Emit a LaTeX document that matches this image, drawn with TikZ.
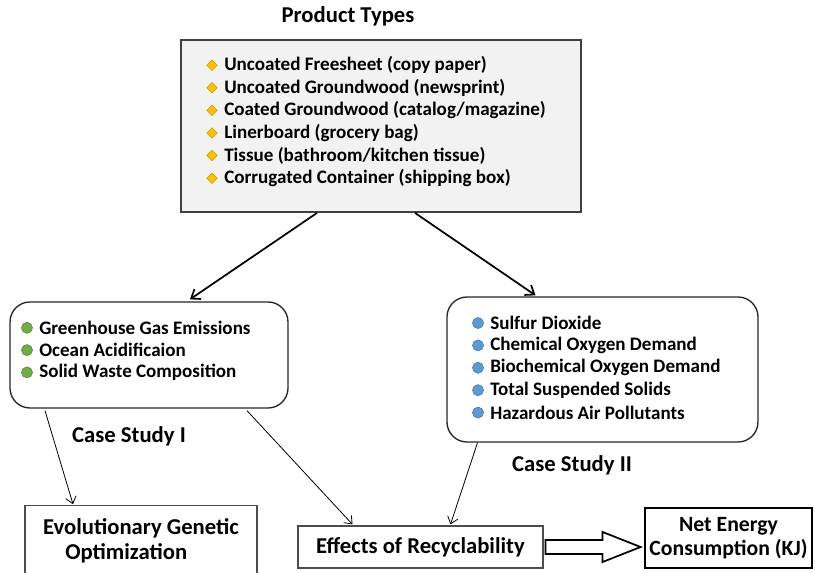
\documentclass[tikz,border=0pt]{standalone}
\usepackage{fontspec}
\setmainfont{Carlito}
\usetikzlibrary{arrows.meta, positioning, shapes.geometric, calc}
\definecolor{boxgray}{HTML}{F2F2F2}
\definecolor{dotgreen}{HTML}{70AD47}
\definecolor{dotblue}{HTML}{5B9BD5}
\definecolor{gemgold}{HTML}{FFC000}

\begin{document}
\begin{tikzpicture}[
    x=0.75pt, y=-0.75pt,
    font          = \bfseries,
    prodbox/.style  = {draw=black!75, line width=1.4pt, fill=boxgray, inner sep=0pt},
    casebox/.style  = {draw=black!85, line width=1pt, rounded corners=15pt, inner sep=0pt},
    outbox/.style   = {draw=black!70, line width=0.9pt, inner sep=0pt, align=center,
                       font=\fontsize{17}{19}\selectfont\bfseries},
    item/.style     = {anchor=west, inner sep=0pt, font=\fontsize{14.3}{16}\selectfont\bfseries},
    gem/.style      = {diamond, fill=gemgold, draw=gemgold!80!black, inner sep=0pt, minimum size=8pt},
    dot/.style      = {circle, inner sep=0pt, minimum size=8.3pt, draw=#1!75!black, fill=#1},
    label/.style    = {font=\fontsize{17}{19}\selectfont\bfseries},
    thinarr/.style  = {-{Straight Barb[length=5pt,width=8pt]}, line width=0.6pt},
    thickarr/.style = {-{Straight Barb[length=6pt,width=9pt]}, line width=1.3pt},
  ]
  \useasboundingbox (0,0) rectangle (815,573);

  % product types
  \node[label] (title) at (348,16) {Product Types};
  \node[prodbox, minimum width=300pt, minimum height=129pt] (prod) at (381,126) {};
  \foreach \txt [count=\i] in {{Uncoated Freesheet (copy paper)},
      {Uncoated Groundwood (newsprint)}, {Coated Groundwood (catalog/magazine)},
      {Linerboard (grocery bag)}, {Tissue (bathroom/kitchen tissue)},
      {Corrugated Container (shipping box)}} {
    \node[gem] (pg\i) at (212,{42.6+22.6*\i}) {};
    \node[item] (pt\i) at (224,{42.6+22.6*\i}) {\txt};
  }

  % case study boxes
  \node[casebox, minimum width=208.5pt, minimum height=79.5pt] (left) at (149,355) {};
  \foreach \txt [count=\i] in {Greenhouse Gas Emissions, Ocean Acidificaion,
      Solid Waste Composition} {
    \node[dot=dotgreen] (lg\i) at (27,{305.5+22.3*\i}) {};
    \node[item] (lt\i) at (39,{305.5+22.3*\i}) {\txt};
  }
  \node[label] (case1) at (129,436) {Case Study I};

  \node[casebox, minimum width=233.25pt, minimum height=108.75pt] (right) at (602.5,369.5) {};
  \foreach \txt [count=\i] in {Sulfur Dioxide, Chemical Oxygen Demand,
      Biochemical Oxygen Demand, Total Suspended Solids, Hazardous Air Pollutants} {
    \node[dot=dotblue] (rg\i) at (478,{300.6+22.4*\i}) {};
    \node[item] (rt\i) at (490,{300.6+22.4*\i}) {\txt};
  }
  \node[label] (case2) at (572,465) {Case Study II};

  % outcome boxes
  \node[outbox, minimum width=174pt, minimum height=52pt] (evo) at (141,540.5)
    {Evolutionary Genetic\\Optimization\hspace*{1.3em}};
  \node[outbox, minimum width=183.75pt, minimum height=31.5pt] (eff) at (420.5,547)
    {Effects of Recyclability};
  \node[outbox, draw=black, line width=2pt, minimum width=125.25pt, minimum height=45pt,
    font=\fontsize{16.3}{18.5}\selectfont\bfseries] (net) at (728.5,538)
    {Net Energy\\Consumption (KJ)};

  % connectors
  \draw[thickarr] ($(prod.south)+(-64,0)$) -- ($(left.north)+(41,-2)$);
  \draw[thickarr] ($(prod.south)+(34,0)$) -- ($(right.north)+(-67,-1)$);
  \draw[thinarr] ($(left.south)+(-104,2)$) -- ($(evo.north)+(-68,-1)$);
  \draw[thinarr] ($(left.south)+(98,2)$) -- ($(eff.north)+(-68,-1)$);
  \draw[thinarr] ($(right.south)+(-125,0)$) -- ($(eff.north)+(30,-1)$);
  \draw[line width=1.3pt, line join=miter] ($(eff.east)+(2,-7)$) -- ++(57,0) -- ++(0,-8)
    -- ++(38,15) -- ++(-38,15) -- ++(0,-8) -- ++(-57,0) -- cycle;
\end{tikzpicture}
\end{document}
